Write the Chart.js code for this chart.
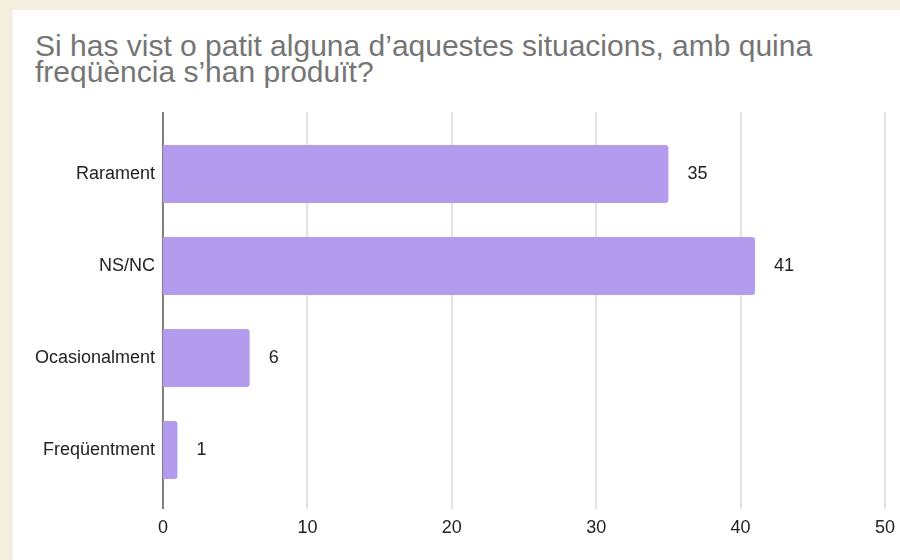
<!DOCTYPE html>
<html>
<head>
<meta charset="utf-8">
<script src="https://cdn.jsdelivr.net/npm/chart.js@4"></script>
<style>
  html, body { margin: 0; padding: 0; }
  body { width: 900px; height: 560px; background: #f4eedf; position: relative; overflow: hidden; }
  #panel { position: absolute; left: 13px; top: 10px; width: 887px; height: 550px; background: #fff; }
  #title {
    position: absolute; left: 22px; top: 23px;
    font-family: "Liberation Sans", Arial, sans-serif; font-size: 30px; line-height: 26px;
    color: #757575; white-space: nowrap;
  }
  #chart { position: absolute; left: 0; top: 0; }
</style>
</head>
<body>
<div id="panel">
  <div id="title">Si has vist o patit alguna d’aquestes situacions, amb quina<br>freqüència s’han produït?</div>
  <canvas id="chart"></canvas>
</div>
<script>
// Categories and values
const categories = ['Rarament', 'NS/NC', 'Ocasionalment', 'Freqüentment'];
const counts = [35, 41, 6, 1];
const xTicks = [0, 10, 20, 30, 40, 50];

const canvas = document.getElementById('chart');
canvas.width = 887;
canvas.height = 550;
const ctx = canvas.getContext('2d');

const FONT = '"Liberation Sans", Arial, sans-serif';

// Draws the vertical grid lines a bit past the plot area, like the original
const gridPlugin = {
  id: 'longGrid',
  beforeDatasetsDraw(chart) {
    const { ctx, chartArea, scales } = chart;
    const top = chartArea.top - 16;
    const bottom = chartArea.bottom + 13;
    ctx.save();
    xTicks.forEach((v) => {
      const x = Math.round(scales.x.getPixelForValue(v));
      ctx.beginPath();
      ctx.lineWidth = 1.5;
      ctx.strokeStyle = v === 0 ? '#555555' : '#d9d9d9';
      ctx.moveTo(x, top);
      ctx.lineTo(x, bottom);
      ctx.stroke();
    });
    ctx.restore();
  }
};

// Value labels to the right of each bar
const valueLabels = {
  id: 'valueLabels',
  afterDatasetsDraw(chart) {
    const { ctx } = chart;
    const meta = chart.getDatasetMeta(0);
    ctx.save();
    ctx.font = '18px ' + FONT;
    ctx.fillStyle = '#222222';
    ctx.textAlign = 'left';
    ctx.textBaseline = 'middle';
    meta.data.forEach((bar, i) => {
      ctx.fillText(String(counts[i]), bar.x + 19, bar.y);
    });
    ctx.restore();
  }
};

new Chart(ctx, {
  type: 'bar',
  data: {
    labels: categories,
    datasets: [{
      data: counts,
      backgroundColor: '#b39bee',
      borderRadius: 3,
      borderSkipped: 'start',
      categoryPercentage: 1,
      barPercentage: 0.63
    }]
  },
  options: {
    indexAxis: 'y',
    responsive: false,
    animation: false,
    layout: { padding: { left: 0, right: 15, top: 118, bottom: 24 } },
    plugins: {
      legend: { display: false },
      tooltip: { enabled: false }
    },
    scales: {
      x: {
        min: 0,
        max: 50,
        afterBuildTicks(scale) { scale.ticks = xTicks.map((v) => ({ value: v })); },
        afterFit(scale) {
          scale.height = 40;
          scale.paddingLeft = 0;
          scale.paddingRight = 0;
        },
        grid: { display: false, drawTicks: false },
        border: { display: false },
        ticks: { padding: 21, maxRotation: 0, color: '#222222', font: { family: FONT, size: 18 } }
      },
      y: {
        afterFit(scale) {
          scale.width = 150;
          scale.paddingTop = 0;
          scale.paddingBottom = 0;
        },
        grid: { display: false, drawTicks: false },
        border: { display: false },
        ticks: { padding: 8, color: '#222222', font: { family: FONT, size: 18 } }
      }
    }
  },
  plugins: [gridPlugin, valueLabels]
});
</script>
</body>
</html>
